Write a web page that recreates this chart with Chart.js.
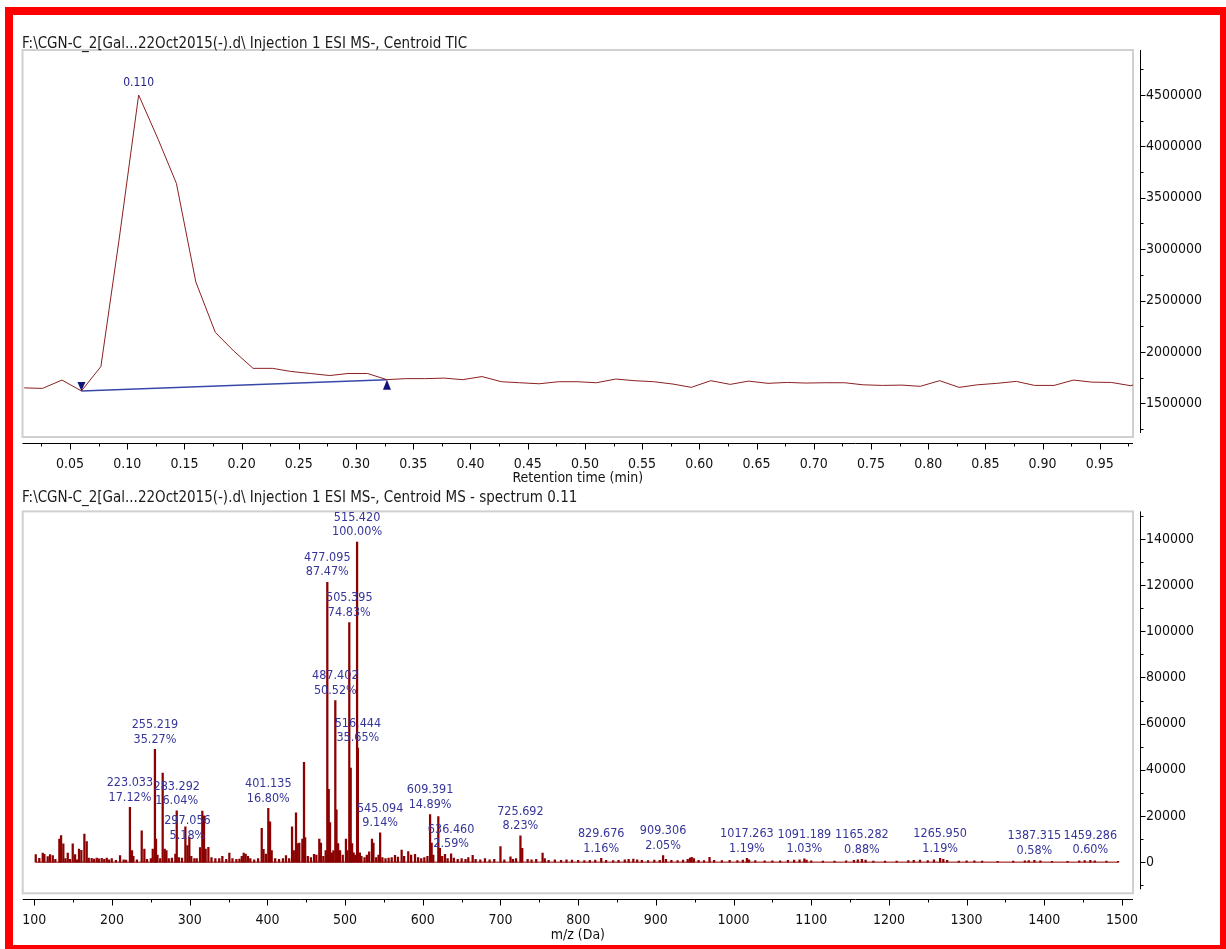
<!DOCTYPE html>
<html>
<head>
<meta charset="utf-8">
<script src="https://cdn.jsdelivr.net/npm/chart.js@4.4.1/dist/chart.umd.min.js"></script>
<style>
  html, body { margin: 0; padding: 0; background: #fff; }
  body { width: 1226px; height: 949px; position: relative; overflow: hidden;
         font-family: 'DejaVu Sans Condensed', 'DejaVu Sans', sans-serif; }
  #frame { position: absolute; left: 5px; top: 7px; width: 1207px; height: 930px; border: 8px solid #ff0000; }
  canvas { position: absolute; left: 0; }
  #ticChart { top: 0; }
  #msChart { top: 490px; }
  .ttl { position: absolute; left: 22px; font-size: 15px; line-height: 16px; color: #1a1a1a; white-space: nowrap; }
</style>
</head>
<body>
<div id="frame"></div>
<canvas id="ticChart" width="1226" height="490"></canvas>
<canvas id="msChart" width="1226" height="459"></canvas>
<div class="ttl" style="top:35px">F:\CGN-C_2[Gal...22Oct2015(-).d\ Injection 1 ESI MS-, Centroid TIC</div>
<div class="ttl" style="top:489px">F:\CGN-C_2[Gal...22Oct2015(-).d\ Injection 1 ESI MS-, Centroid MS - spectrum 0.11</div>
<script>
const FONT = "'DejaVu Sans Condensed', 'DejaVu Sans', sans-serif";

// TIC chromatogram
const ticTimes = [0.010, 0.026, 0.043, 0.060, 0.077, 0.093, 0.110, 0.127, 0.143, 0.160,
  0.177, 0.193, 0.210, 0.227, 0.243, 0.260, 0.277, 0.293, 0.310, 0.327,
  0.343, 0.360, 0.377, 0.393, 0.410, 0.427, 0.443, 0.460, 0.477, 0.493,
  0.510, 0.527, 0.543, 0.560, 0.577, 0.593, 0.610, 0.627, 0.643, 0.660,
  0.677, 0.693, 0.710, 0.727, 0.743, 0.760, 0.777, 0.793, 0.810, 0.827,
  0.843, 0.860, 0.877, 0.893, 0.910, 0.927, 0.943, 0.960, 0.977, 0.993];
const ticIntensity = [1650000, 1645000, 1726000, 1620000, 1857000, 3100000, 4500000, 4070000, 3640000, 2680000,
  2190000, 2010000, 1840000, 1840000, 1810000, 1790000, 1770000, 1790000, 1790000, 1730000,
  1740000, 1740000, 1745000, 1730000, 1760000, 1710000, 1700000, 1690000, 1710000, 1710000,
  1700000, 1736000, 1720000, 1710000, 1687000, 1655000, 1720000, 1684000, 1716000, 1694000,
  1703000, 1697000, 1700000, 1700000, 1680000, 1674000, 1677000, 1665000, 1720000, 1655000,
  1680000, 1694000, 1713000, 1674000, 1674000, 1726000, 1706000, 1703000, 1671000, 1726000];
// integration baseline: start / end scan index
const baseStart = 3;
const baseEnd = 19;

// mass spectrum at 0.11 min
const specMz = [101.8, 106.4, 110.8, 112.9, 117.2, 120.2, 123.7, 127.0, 132.2, 134.4,
  137.3, 140.0, 143.0, 146.0, 149.4, 152.4, 155.0, 157.5, 160.5, 164.4,
  167.4, 170.0, 173.8, 177.0, 180.3, 183.0, 186.7, 190.0, 193.2, 196.0,
  199.6, 205.0, 210.3, 215.0, 218.0, 223.033, 225.7, 227.5, 232.0, 238.2,
  241.6, 245.0, 250.0, 252.4, 255.219, 256.6, 258.5, 262.0, 265.2, 267.8,
  270.0, 273.0, 277.0, 281.5, 283.292, 286.0, 290.0, 294.4, 297.056, 299.5,
  302.0, 306.0, 309.0, 313.3, 316.2, 318.4, 320.5, 324.0, 328.0, 333.0,
  338.0, 342.0, 347.0, 351.0, 355.0, 360.0, 364.0, 367.0, 369.5, 372.0,
  375.0, 378.0, 383.0, 388.0, 392.7, 395.0, 398.0, 401.135, 403.4, 405.5,
  410.0, 415.0, 420.0, 423.9, 428.0, 431.7, 434.0, 436.8, 439.0, 441.1,
  445.0, 447.1, 448.6, 452.0, 456.0, 460.0, 463.0, 466.8, 468.9, 472.0,
  475.0, 477.095, 478.9, 480.6, 483.0, 485.0, 487.402, 488.9, 491.0, 493.5,
  497.0, 501.1, 503.0, 505.395, 507.2, 509.0, 511.0, 513.0, 515.420, 516.444,
  519.0, 521.0, 525.0, 528.0, 531.0, 534.6, 536.5, 540.0, 543.0, 545.094,
  548.0, 552.0, 556.0, 560.0, 564.2, 568.0, 572.8, 576.0, 581.3, 585.0,
  590.0, 594.0, 598.0, 602.0, 606.0, 609.391, 611.4, 613.5, 620.0, 622.0,
  625.0, 628.6, 632.0, 636.460, 640.0, 645.0, 650.0, 655.0, 658.6, 664.2,
  668.0, 674.0, 680.0, 686.0, 692.0, 700.0, 705.0, 712.9, 716.0, 720.0,
  725.692, 728.0, 735.0, 740.0, 746.0, 754.2, 757.0, 762.0, 770.0, 778.0,
  785.0, 792.0, 800.0, 808.0, 815.0, 822.0, 829.676, 836.0, 845.0, 852.0,
  860.0, 865.0, 871.0, 876.0, 882.0, 890.0, 898.0, 905.0, 909.306, 913.0,
  920.0, 928.0, 935.0, 941.0, 944.0, 946.2, 949.0, 955.0, 962.0, 969.1,
  975.0, 985.0, 995.0, 1005.0, 1012.0, 1017.263, 1020.0, 1028.0, 1040.0, 1050.0,
  1060.0, 1070.0, 1078.0, 1085.0, 1091.189, 1094.0, 1100.0, 1115.0, 1130.0, 1145.0,
  1155.0, 1160.0, 1165.282, 1170.0, 1180.0, 1195.0, 1210.0, 1225.0, 1232.0, 1240.0,
  1250.0, 1258.0, 1265.950, 1270.0, 1275.0, 1290.0, 1300.0, 1310.0, 1320.0, 1340.0,
  1360.0, 1375.0, 1380.0, 1387.315, 1395.0, 1410.0, 1430.0, 1445.0, 1452.0, 1459.286,
  1465.0, 1480.0, 1495.0];
const specInt = [3300, 1600, 3900, 3400, 2400, 3300, 2800, 1200, 10000, 11500,
  7900, 1500, 3900, 1200, 7900, 3300, 1000, 5700, 5100, 12200,
  8900, 1800, 1600, 1300, 1800, 1400, 1600, 1200, 1800, 1000,
  1500, 800, 2800, 1000, 900, 23730, 5000, 2500, 1000, 13600,
  5600, 1200, 1500, 5600, 48880, 10000, 3000, 1500, 38600, 5600,
  5000, 1500, 1800, 3500, 22230, 2000, 1800, 15300, 7180, 10700,
  2500, 1500, 1500, 6300, 22100, 20000, 5600, 6400, 2000, 1500,
  1500, 2500, 1200, 3900, 1500, 1200, 1300, 2500, 3900, 3500,
  2500, 1500, 1000, 1500, 14600, 5500, 3500, 23280, 17400, 5000,
  1500, 1200, 1500, 2800, 1500, 15300, 5000, 21300, 8000, 8300,
  10000, 43200, 10600, 2500, 2000, 3400, 3000, 10000, 8300, 2500,
  5000, 121230, 31500, 17100, 4000, 5000, 70020, 22600, 8000, 5000,
  3000, 10000, 5000, 103720, 40700, 8000, 4000, 3000, 138600, 49410,
  4000, 2500, 2000, 3000, 4500, 10000, 8300, 2000, 3000, 12670,
  2000, 1500, 1800, 2000, 2900, 2200, 5200, 2500, 4600, 3000,
  3400, 2000, 1500, 2000, 2500, 20640, 8200, 3000, 19700, 6000,
  2500, 3400, 1500, 3590, 1800, 1200, 1500, 1200, 2000, 2900,
  1200, 1000, 1500, 1000, 1200, 6700, 1000, 2300, 1200, 1500,
  11410, 6000, 1200, 1000, 1200, 3900, 1500, 800, 1000, 800,
  1000, 900, 800, 700, 800, 900, 1610, 800, 700, 800,
  1000, 1200, 1300, 1000, 800, 700, 900, 800, 2840, 1200,
  800, 700, 900, 1200, 1800, 2100, 1500, 800, 700, 2100,
  800, 700, 800, 700, 900, 1650, 1000, 700, 600, 600,
  600, 800, 900, 1000, 1430, 900, 600, 500, 500, 600,
  800, 1000, 1220, 900, 500, 500, 500, 700, 800, 900,
  700, 1000, 1650, 1200, 800, 500, 600, 600, 500, 400,
  500, 600, 700, 800, 600, 400, 400, 600, 700, 830,
  600, 500, 400];
// annotated peaks and their relative abundance (%)
const labelMz = [223.033, 255.219, 283.292, 297.056, 401.135, 477.095, 487.402, 505.395, 515.420, 516.444,
  545.094, 609.391, 636.460, 725.692, 829.676, 909.306, 1017.263, 1091.189, 1165.282, 1265.950,
  1387.315, 1459.286];
const labelPct = [17.12, 35.27, 16.04, 5.18, 16.80, 87.47, 50.52, 74.83, 100.00, 35.65,
  9.14, 14.89, 2.59, 8.23, 1.16, 2.05, 1.19, 1.03, 0.88, 1.19,
  0.58, 0.60];

const tickFont = { family: FONT, size: 14 };
const inkColor = '#111111';

// plot box, x axis under the box and y axis right of the box, with minor ticks
const axisFrame = {
  id: 'axisFrame',
  beforeDatasetsDraw(chart, args, opts) {
    const { ctx, chartArea: a, scales: { x, y } } = chart;
    ctx.save();
    ctx.strokeStyle = '#d0d0d0';
    ctx.lineWidth = 2;
    ctx.strokeRect(a.left, a.top, a.right - a.left, a.bottom - a.top);

    ctx.strokeStyle = '#000';
    ctx.lineWidth = 1;
    const ay = Math.round(a.bottom) + 6.5;
    ctx.beginPath();
    ctx.moveTo(a.left, ay);
    ctx.lineTo(a.right, ay);
    for (let k = Math.ceil(x.min / opts.xMinor); k * opts.xMinor <= x.max; k++) {
      const px = Math.round(x.getPixelForValue(k * opts.xMinor)) + 0.5;
      ctx.moveTo(px, ay);
      ctx.lineTo(px, ay + (k % 2 === 0 ? 6 : 3));
    }
    const ax = Math.round(a.right) + 7.5;
    ctx.moveTo(ax, a.top);
    ctx.lineTo(ax, a.bottom - 4);
    for (let k = Math.ceil(y.min / opts.yMinor); k * opts.yMinor <= y.max; k++) {
      const py = Math.round(y.getPixelForValue(k * opts.yMinor)) + 0.5;
      ctx.moveTo(ax, py);
      ctx.lineTo(ax + (k % 2 === 0 ? 5 : 3), py);
    }
    ctx.stroke();
    ctx.restore();
  }
};

// apex label and baseline start / end markers on the TIC
const ticMarks = {
  id: 'ticMarks',
  afterDatasetsDraw(chart) {
    const { ctx, scales: { x, y } } = chart;
    ctx.save();
    const top = ticIntensity.indexOf(Math.max(...ticIntensity));
    ctx.fillStyle = '#22228a';
    ctx.font = '12px ' + FONT;
    ctx.textAlign = 'center';
    ctx.textBaseline = 'middle';
    ctx.fillText(ticTimes[top].toFixed(3), x.getPixelForValue(ticTimes[top]), y.getPixelForValue(ticIntensity[top]) - 12);

    ctx.fillStyle = '#141478';
    const sx = x.getPixelForValue(ticTimes[baseStart]), sy = y.getPixelForValue(ticIntensity[baseStart]);
    ctx.beginPath();
    ctx.moveTo(sx, sy);
    ctx.lineTo(sx - 4, sy - 9);
    ctx.lineTo(sx + 4, sy - 9);
    ctx.closePath();
    ctx.fill();
    const ex = x.getPixelForValue(ticTimes[baseEnd]), ey = y.getPixelForValue(ticIntensity[baseEnd]);
    ctx.beginPath();
    ctx.moveTo(ex, ey);
    ctx.lineTo(ex - 4, ey + 10);
    ctx.lineTo(ex + 4, ey + 10);
    ctx.closePath();
    ctx.fill();
    ctx.restore();
  }
};

// m/z and relative abundance above the annotated peaks
const peakLabels = {
  id: 'peakLabels',
  afterDatasetsDraw(chart) {
    const { ctx, scales: { x, y } } = chart;
    ctx.save();
    ctx.fillStyle = '#35359a';
    ctx.font = '12.5px ' + FONT;
    ctx.textAlign = 'center';
    ctx.textBaseline = 'middle';
    labelMz.forEach((m, i) => {
      const px = x.getPixelForValue(m);
      const py = y.getPixelForValue(specInt[specMz.indexOf(m)]);
      ctx.fillText(m.toFixed(3), px, py - 24.5);
      ctx.fillText(labelPct[i].toFixed(2) + '%', px, py - 10);
    });
    ctx.restore();
  }
};

// ticks only on whole multiples of the step
function stepTicks(step) {
  return s => {
    const out = [];
    for (let k = Math.ceil(s.min / step - 1e-9); k * step <= s.max + 1e-9; k++) {
      out.push({ value: k * step });
    }
    s.ticks = out;
  };
}

function xScale(min, max, step, fmt, title) {
  return {
    type: 'linear', min: min, max: max, offset: false,
    grid: { display: false, drawTicks: false }, border: { display: false },
    ticks: { autoSkip: false, maxRotation: 0, padding: 19, color: inkColor, font: tickFont, callback: fmt },
    title: { display: true, text: title, color: inkColor, font: tickFont, padding: { top: 0, bottom: 0 } },
    afterBuildTicks: stepTicks(step),
    afterFit: s => { s.height = 50; }
  };
}

function yScale(min, max, step) {
  return {
    type: 'linear', position: 'right', min: min, max: max,
    grid: { display: false, drawTicks: false }, border: { display: false },
    ticks: { autoSkip: false, padding: 13, color: inkColor, font: tickFont, callback: v => String(Math.round(v)) },
    afterBuildTicks: stepTicks(step),
    afterFit: s => { s.width = 80; }
  };
}

new Chart(document.getElementById('ticChart'), {
  type: 'line',
  data: {
    datasets: [{
      data: ticTimes.map((t, i) => ({ x: t, y: ticIntensity[i] })),
      borderColor: '#8b2020',
      borderWidth: 1,
      pointRadius: 0,
      tension: 0
    }, {
      data: [baseStart, baseEnd].map(i => ({ x: ticTimes[i], y: ticIntensity[i] })),
      borderColor: '#3848a8',
      borderWidth: 1.5,
      pointRadius: 0
    }]
  },
  options: {
    responsive: false,
    animation: false,
    layout: { padding: { left: 22.5, top: 50, right: 13, bottom: 3 } },
    plugins: {
      legend: { display: false },
      tooltip: { enabled: false },
      axisFrame: { xMinor: 0.025, yMinor: 250000 }
    },
    scales: {
      x: xScale(0.0085, 0.979, 0.05, v => v.toFixed(2), 'Retention time (min)'),
      y: yScale(1172000, 4938000, 500000)
    }
  },
  plugins: [axisFrame, ticMarks]
});

new Chart(document.getElementById('msChart'), {
  type: 'bar',
  data: {
    datasets: [{
      type: 'line',
      data: [{ x: specMz[0], y: 0 }, { x: specMz[specMz.length - 1], y: 0 }],
      borderColor: '#8b0000',
      borderWidth: 1,
      pointRadius: 0
    }, {
      data: specMz.map((m, i) => ({ x: m, y: specInt[i] })),
      backgroundColor: '#8b0000',
      barThickness: 1.6
    }]
  },
  options: {
    responsive: false,
    animation: false,
    layout: { padding: { left: 22.7, top: 17.3, right: 13, bottom: 5.7 } },
    plugins: {
      legend: { display: false },
      tooltip: { enabled: false },
      axisFrame: { xMinor: 50, yMinor: 10000 }
    },
    scales: {
      x: xScale(85, 1514.2, 100, v => String(Math.round(v)), 'm/z (Da)'),
      y: yScale(-13500, 151900, 20000)
    }
  },
  plugins: [axisFrame, peakLabels]
});
</script>
</body>
</html>
